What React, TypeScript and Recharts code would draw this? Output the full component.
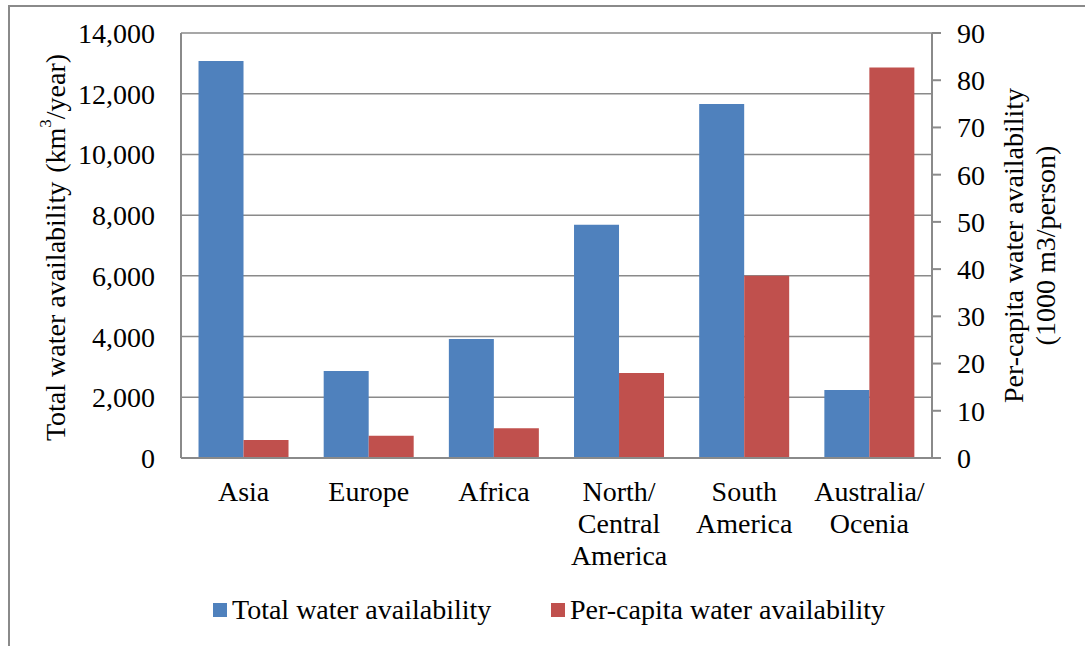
import React from "react";
import {
  BarChart, Bar, XAxis, YAxis, CartesianGrid, Legend,
} from "recharts";

// regions, with "\n" where the axis label wraps
const regions = [
  "Asia",
  "Europe",
  "Africa",
  "North/\nCentral\nAmerica",
  "South\nAmerica",
  "Australia/\nOcenia",
];
// km3/year
const totalWater = [13080, 2870, 3920, 7680, 11660, 2240];
// 1000 m3/person
const perCapitaWater = [3.8, 4.7, 6.3, 18.0, 38.6, 82.7];

const leftTicks = [0, 2000, 4000, 6000, 8000, 10000, 12000, 14000];
const rightTicks = [0, 10, 20, 30, 40, 50, 60, 70, 80, 90];

const data = regions.map((region, i) => ({
  region,
  total: totalWater[i],
  perCapita: perCapitaWater[i],
}));

const FONT = '"Liberation Serif", "Times New Roman", serif';
const FS = 28;
const BLUE = "#4f81bd";
const RED = "#c0504d";
const GRID = "#8a8a8a";

const W = 1085;
const H = 646;

const RegionTick = ({ x, y, payload }: any) => {
  const lines = String(payload.value).split("\n");
  return (
    <text x={x} y={y + 43} textAnchor="middle" fontFamily={FONT} fontSize={FS} fill="#000">
      {lines.map((l, i) => (
        <tspan key={i} x={x} dy={i === 0 ? 0 : 32}>{l}</tspan>
      ))}
    </text>
  );
};

const LeftTitle = ({ viewBox }: any) => {
  const cx = viewBox.x + 55;
  const cy = viewBox.y + viewBox.height / 2 + 2;
  return (
    <text
      x={cx} y={cy} textAnchor="middle" dominantBaseline="central"
      transform={`rotate(-90 ${cx} ${cy})`}
      fontFamily={FONT} fontSize={FS} fill="#000"
    >
      Total water availability
      <tspan dx={9}>(km</tspan>
      <tspan fontSize={17} dy={-10}>3</tspan>
      <tspan dy={10}>/year)</tspan>
    </text>
  );
};

const RightTitle = ({ viewBox }: any) => {
  const cy = viewBox.y + viewBox.height / 2;
  const x1 = viewBox.x + 81;
  const x2 = viewBox.x + 113;
  return (
    <g fontFamily={FONT} fontSize={FS} fill="#000">
      <text x={x1} y={cy} textAnchor="middle" dominantBaseline="central"
        transform={`rotate(-90 ${x1} ${cy})`}>
        Per-capita water availability
      </text>
      <text x={x2} y={cy} textAnchor="middle" dominantBaseline="central"
        transform={`rotate(-90 ${x2} ${cy})`}>
        (1000 m3/person)
      </text>
    </g>
  );
};

const legendItems = [
  { label: "Total water availability", color: BLUE, left: 213 },
  { label: "Per-capita water availability", color: RED, left: 551 },
];

const ChartLegend = () => (
  <div style={{ position: "relative", height: 40, fontFamily: FONT, fontSize: FS, color: "#000" }}>
    {legendItems.map((it) => (
      <div key={it.label} style={{ position: "absolute", left: it.left, top: 0, display: "flex", alignItems: "center", whiteSpace: "nowrap" }}>
        <span style={{ width: 14, height: 14, background: it.color, display: "inline-block", marginRight: 5 }} />
        <span>{it.label}</span>
      </div>
    ))}
  </div>
);

export default function App() {
  return (
    <div style={{ position: "fixed", left: 0, top: 0, width: W, height: H, background: "#fff" }}>
      <div style={{
        position: "absolute", left: 8, top: 5, right: 0, bottom: 0,
        borderLeft: `2px solid ${GRID}`, borderTop: `2px solid ${GRID}`,
      }} />
      <div style={{ position: "absolute", left: 0, top: 0 }}>
        <BarChart
          width={W}
          height={H}
          data={data}
          margin={{ top: 33, right: 0, left: 0, bottom: 28 }}
          barCategoryGap="14%"
          barGap={0}
        >
          <CartesianGrid yAxisId="left" vertical={false} stroke={GRID} strokeWidth={1.5} />
          <XAxis
            dataKey="region"
            interval={0}
            height={120}
            tick={<RegionTick />}
            tickLine={false}
            tickSize={0}
            tickMargin={0}
            axisLine={{ stroke: GRID, strokeWidth: 2 }}
          />
          <YAxis
            yAxisId="left"
            width={181}
            domain={[0, 14000]}
            ticks={leftTicks}
            tickFormatter={(v: number) => v.toLocaleString("en-US")}
            tick={{ fontFamily: FONT, fontSize: FS, fill: "#000" }}
            tickLine={false}
            tickSize={0}
            tickMargin={26}
            axisLine={{ stroke: GRID, strokeWidth: 2 }}
            label={<LeftTitle />}
          />
          <YAxis
            yAxisId="right"
            orientation="right"
            width={W - 932}
            domain={[0, 90]}
            ticks={rightTicks}
            tick={{ fontFamily: FONT, fontSize: FS, fill: "#000" }}
            tickLine={{ stroke: GRID, strokeWidth: 2 }}
            tickSize={9}
            tickMargin={16}
            axisLine={{ stroke: GRID, strokeWidth: 2 }}
            label={<RightTitle />}
          />
          <Legend
            verticalAlign="bottom"
            content={<ChartLegend />}
            wrapperStyle={{ left: 0, top: 594, width: W }}
          />
          <Bar yAxisId="left" dataKey="total" name="Total water availability" fill={BLUE} isAnimationActive={false} />
          <Bar yAxisId="right" dataKey="perCapita" name="Per-capita water availability" fill={RED} isAnimationActive={false} />
        </BarChart>
      </div>
    </div>
  );
}
